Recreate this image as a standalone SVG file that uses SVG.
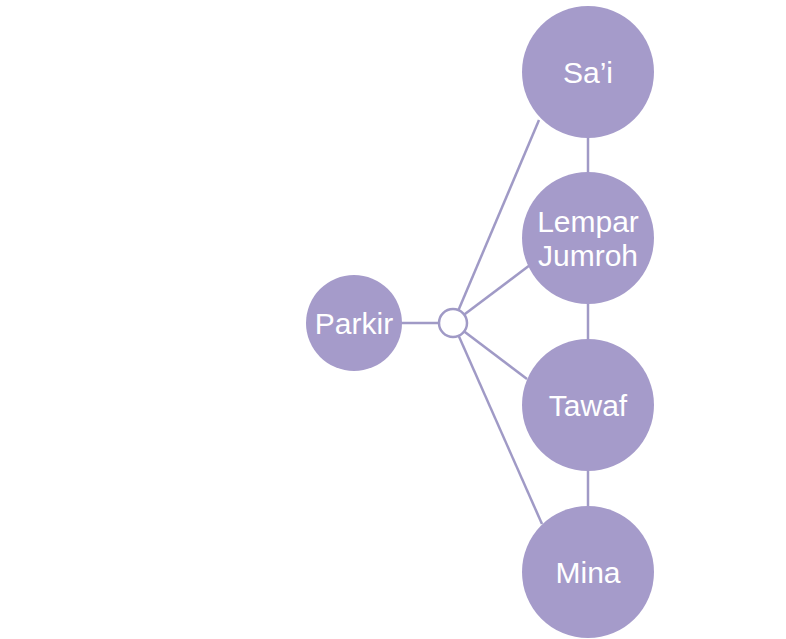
<svg xmlns="http://www.w3.org/2000/svg" width="786" height="639" viewBox="0 0 786 639">
  <style>
    .node { fill: #a59bca; }
    .hub { fill: #ffffff; stroke: #a09ac6; stroke-width: 2.5; }
    .edge { stroke: #a09ac6; stroke-width: 2.5; fill: none; }
    .label { fill: #ffffff; font-family: "Liberation Sans", Arial, sans-serif; font-size: 30px; text-anchor: middle; }
  </style>
  <rect width="786" height="639" fill="#ffffff"/>
  <g id="connectors">
    <line class="edge" x1="401" y1="323" x2="453" y2="323"/>
    <line class="edge" x1="453" y1="323" x2="539" y2="120"/>
    <line class="edge" x1="453" y1="323" x2="530" y2="265"/>
    <line class="edge" x1="453" y1="323" x2="527" y2="379"/>
    <line class="edge" x1="453" y1="323" x2="542" y2="524"/>
    <line class="edge" x1="588" y1="137" x2="588" y2="173"/>
    <line class="edge" x1="588" y1="303" x2="588" y2="340"/>
    <line class="edge" x1="588" y1="471" x2="588" y2="507"/>
  </g>
  <g id="hub">
    <circle class="hub" cx="453" cy="323" r="14"/>
  </g>
  <g id="parkir">
    <circle class="node" cx="354" cy="323" r="48"/>
    <text class="label" x="354" y="334">Parkir</text>
  </g>
  <g id="sai">
    <circle class="node" cx="588" cy="72" r="66"/>
    <text class="label" x="588" y="83">Sa’i</text>
  </g>
  <g id="lempar-jumroh">
    <circle class="node" cx="588" cy="238" r="66"/>
    <text class="label" x="588" y="232">Lempar</text>
    <text class="label" x="588" y="266">Jumroh</text>
  </g>
  <g id="tawaf">
    <circle class="node" cx="588" cy="405" r="66"/>
    <text class="label" x="588" y="416">Tawaf</text>
  </g>
  <g id="mina">
    <circle class="node" cx="588" cy="572" r="66"/>
    <text class="label" x="588" y="583">Mina</text>
  </g>
</svg>
